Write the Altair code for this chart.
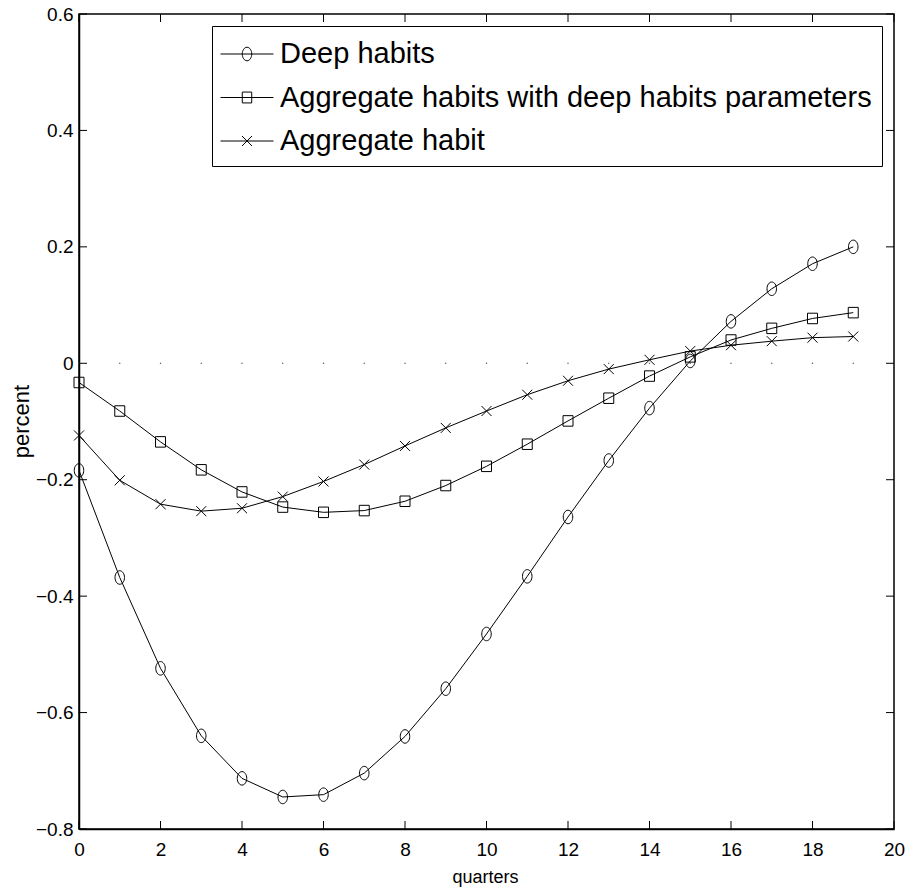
import altair as alt
import pandas as pd

# Impulse responses (percent deviation) over 20 quarters
quarters = list(range(20))
deep_habits = [-0.184, -0.368, -0.524, -0.640, -0.713, -0.745, -0.741, -0.704, -0.641, -0.559,
               -0.465, -0.366, -0.264, -0.167, -0.077, 0.004, 0.072, 0.128, 0.171, 0.200]
agg_deep_params = [-0.033, -0.082, -0.135, -0.183, -0.221, -0.247, -0.256, -0.253, -0.237, -0.210,
                   -0.177, -0.139, -0.099, -0.060, -0.022, 0.011, 0.040, 0.060, 0.077, 0.087]
agg_habit = [-0.124, -0.201, -0.242, -0.254, -0.249, -0.229, -0.203, -0.174, -0.142, -0.111,
             -0.082, -0.054, -0.030, -0.010, 0.006, 0.021, 0.031, 0.038, 0.044, 0.046]
series_names = ["Deep habits", "Aggregate habits with deep habits parameters", "Aggregate habit"]
x_ticks = [0, 2, 4, 6, 8, 10, 12, 14, 16, 18, 20]
y_ticks = [-0.8, -0.6, -0.4, -0.2, 0.0, 0.2, 0.4, 0.6]

W, H = 815, 815
FONT = "Liberation Sans, Arial, Helvetica, sans-serif"
TICK_LEN = 8

rows = []
for name, vals in zip(series_names, [deep_habits, agg_deep_params, agg_habit]):
    for q, v in zip(quarters, vals):
        rows.append({"series": name, "quarter": q, "value": v})
df = pd.DataFrame(rows)

# marker glyphs (unit box scaled by sqrt(size)/2)
marker_paths = [
    "M-0.95,0A0.95,1.35 0 1,1 0.95,0A0.95,1.35 0 1,1 -0.95,0Z",
    "M-1,-1.05L1,-1.05L1,1.05L-1,1.05Z",
    "M-1,-1L1,1M-1,1L1,-1",
]
# legend glyphs: line segment through the marker
legend_paths = [
    "M-1.514,0L1.514,0M-0.271,0A0.271,0.386 0 1,1 0.271,0A0.271,0.386 0 1,1 -0.271,0Z",
    "M-1.514,0L1.514,0M-0.27,-0.31L0.27,-0.31L0.27,0.31L-0.27,0.31Z",
    "M-1.514,0L1.514,0M-0.286,-0.286L0.286,0.286M-0.286,0.286L0.286,-0.286",
]

x_scale = alt.Scale(domain=[0, 20], nice=False, zero=False)
y_scale = alt.Scale(domain=[-0.8, 0.6], nice=False, zero=False)

x_axis = alt.Axis(
    values=x_ticks, ticks=False, grid=False, labelPadding=11, labelFlush=False,
    labelFont=FONT, labelFontSize=19, labelColor="black",
    domainColor="black", domainWidth=1.5,
    title="quarters", titleFont=FONT, titleFontSize=18, titleFontWeight="normal",
    titleColor="black", titleX=406, titleY=48, titleBaseline="middle", titleAlign="center",
)
y_axis = alt.Axis(
    values=y_ticks, ticks=False, grid=False, labelPadding=6, labelFlush=False,
    labelExpr="datum.value == 0 ? '0' : format(datum.value, '.1f')",
    labelFont=FONT, labelFontSize=19, labelColor="black",
    domainColor="black", domainWidth=1.5,
    title="percent", titleFont=FONT, titleFontSize=22, titleFontWeight="normal",
    titleColor="black", titleAngle=270, titleX=-58, titleY=407,
    titleBaseline="middle", titleAlign="center",
)

X = lambda field: alt.X(field, scale=x_scale, axis=x_axis)
Y = lambda field: alt.Y(field, scale=y_scale, axis=y_axis)

lines = alt.Chart(df).mark_line(color="black", strokeWidth=1).encode(
    x=X("quarter:Q"), y=Y("value:Q"), detail="series:N",
)

markers = alt.Chart(df).mark_point(filled=False, color="black", strokeWidth=1, size=100, opacity=1).encode(
    x=X("quarter:Q"), y=Y("value:Q"),
    shape=alt.Shape("series:N", scale=alt.Scale(domain=series_names, range=marker_paths), legend=None),
)

legend_layer = alt.Chart(df).transform_filter("false").mark_point(
    filled=False, color="black", strokeWidth=1, opacity=1
).encode(
    x=X("quarter:Q"), y=Y("value:Q"),
    shape=alt.Shape(
        "series:N",
        scale=alt.Scale(domain=series_names, range=legend_paths),
        legend=alt.Legend(
            orient="none", legendX=133, legendY=12, title=None,
            labelFont=FONT, labelFontSize=29, labelColor="black", labelLimit=2000,
            labelOffset=15, symbolSize=1225, symbolOffset=7,
            symbolStrokeColor="black", symbolStrokeWidth=1, symbolFillColor="transparent",
            symbolOpacity=1, strokeColor="black", fillColor="white",
            padding=10, rowPadding=10.5,
        ),
    ),
)

# dotted reference at zero, one dot per quarter
zero_df = pd.DataFrame({"quarter": quarters, "zero": [0.0] * len(quarters)})
zero_dots = alt.Chart(zero_df).mark_circle(color="#555555", size=2, opacity=1).encode(
    x=X("quarter:Q"), y=Y("zero:Q"),
)

# inward tick marks on all four sides
xt = pd.DataFrame({"quarter": x_ticks})
yt = pd.DataFrame({"value": y_ticks})
tick_style = dict(color="black", strokeWidth=1)
bottom_ticks = alt.Chart(xt).mark_rule(**tick_style).encode(
    x=X("quarter:Q"), y=alt.value(H), y2=alt.value(H - TICK_LEN))
top_ticks = alt.Chart(xt).mark_rule(**tick_style).encode(
    x=X("quarter:Q"), y=alt.value(0), y2=alt.value(TICK_LEN))
left_ticks = alt.Chart(yt).mark_rule(**tick_style).encode(
    y=Y("value:Q"), x=alt.value(0), x2=alt.value(TICK_LEN))
right_ticks = alt.Chart(yt).mark_rule(**tick_style).encode(
    y=Y("value:Q"), x=alt.value(W), x2=alt.value(W - TICK_LEN))

chart = alt.layer(
    lines, zero_dots, bottom_ticks, top_ticks, left_ticks, right_ticks, markers, legend_layer
).resolve_scale(shape="independent").properties(
    width=W, height=H,
    autosize=alt.AutoSizeParams(type="none"),
    padding={"left": 79, "top": 14, "right": 16, "bottom": 63},
    background="white",
).configure_view(stroke="black", strokeWidth=1.5).configure_axis(
    labelFontSize=19, titleFontWeight="normal"
).configure_axisY(titleFontSize=22).configure_axisX(titleFontSize=18)

chart.save("out.html", embed_options={"renderer": "svg", "actions": False})
